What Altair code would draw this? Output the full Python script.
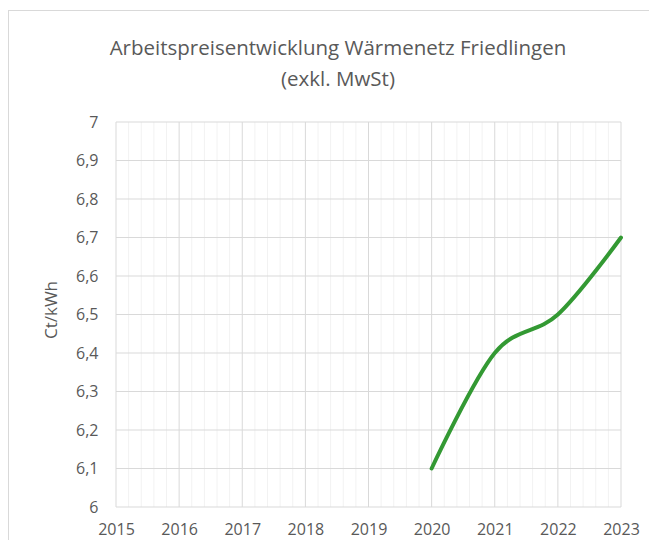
import altair as alt
import pandas as pd

# data
years = [2020, 2021, 2022, 2023]
prices = [6.1, 6.4, 6.5, 6.7]

x_major = [2015, 2016, 2017, 2018, 2019, 2020, 2021, 2022, 2023]
x_minor = [round(y + k * 0.2, 1) for y in x_major[:-1] for k in (1, 2, 3, 4)]
y_ticks = [6.0, 6.1, 6.2, 6.3, 6.4, 6.5, 6.6, 6.7, 6.8, 6.9, 7.0]

title_lines = ["Arbeitspreisentwicklung Wärmenetz Friedlingen", "(exkl. MwSt)"]
y_title = "Ct/kWh"

W, H = 505, 385
FONT = "Open Sans"
TXT = "#595959"
GRID = "#d9d9d9"
MINOR = "#f2f2f2"

xscale = alt.Scale(domain=[2015, 2023], nice=False, zero=False)
yscale = alt.Scale(domain=[6, 7], nice=False, zero=False)

x_axis = alt.Axis(
    values=x_major, format="d", grid=False, domain=False, ticks=False,
    labelFont=FONT, labelFontSize=16, labelColor=TXT, labelPadding=14,
    labelFlush=False, title=None,
)
y_axis = alt.Axis(
    values=y_ticks, grid=False, domain=False, ticks=False,
    labelExpr="replace(format(datum.value, '.1~f'), '.', ',')",
    labelFont=FONT, labelFontSize=16, labelColor=TXT, labelPadding=18,
    title=y_title, titleFont=FONT, titleFontSize=17, titleColor=TXT,
    titleFontWeight="normal", titleAngle=270, titleX=-65, titleY=H / 2 - 5,
    titleAlign="center", titleBaseline="middle",
)

df = pd.DataFrame({"Jahr": years, "Preis": prices})

minor = alt.Chart(pd.DataFrame({"x": x_minor})).mark_rule(
    color=MINOR, strokeWidth=1
).encode(x=alt.X("x:Q", scale=xscale, axis=x_axis))

hgrid = alt.Chart(pd.DataFrame({"y": y_ticks})).mark_rule(
    color=GRID, strokeWidth=1
).encode(y=alt.Y("y:Q", scale=yscale, axis=y_axis))

vgrid = alt.Chart(pd.DataFrame({"x": x_major})).mark_rule(
    color=GRID, strokeWidth=1
).encode(x=alt.X("x:Q", scale=xscale, axis=x_axis))

line = alt.Chart(df).mark_line(
    color="#339933", strokeWidth=4, interpolate="cardinal", strokeCap="round"
).encode(
    x=alt.X("Jahr:Q", scale=xscale, axis=x_axis),
    y=alt.Y("Preis:Q", scale=yscale, axis=y_axis),
)

dummy = alt.Data(values=[{}])

frame_top = alt.Chart(dummy).mark_rule(color=GRID, strokeWidth=1).encode(
    x=alt.value(-108), x2=alt.value(W + 40), y=alt.value(-111.5)
)
frame_left = alt.Chart(dummy).mark_rule(color=GRID, strokeWidth=1).encode(
    x=alt.value(-107.5), y=alt.value(-111.5), y2=alt.value(H + 40)
)

t1 = alt.Chart(dummy).mark_text(
    text=title_lines[0], font=FONT, fontSize=20.5, color=TXT,
    align="center", baseline="middle"
).encode(x=alt.value(222), y=alt.value(-73))
t2 = alt.Chart(dummy).mark_text(
    text=title_lines[1], font=FONT, fontSize=20.5, color=TXT,
    align="center", baseline="middle"
).encode(x=alt.value(222), y=alt.value(-42))

chart = alt.layer(
    minor, hgrid, vgrid, line, frame_top, frame_left, t1, t2
).properties(
    width=W, height=H,
    autosize=alt.AutoSizeParams(type="none"),
    padding={"left": 108, "top": 114, "right": 28, "bottom": 33},
).configure_view(stroke=None)

chart.save("out.html", embed_options={"renderer": "svg", "actions": False})
